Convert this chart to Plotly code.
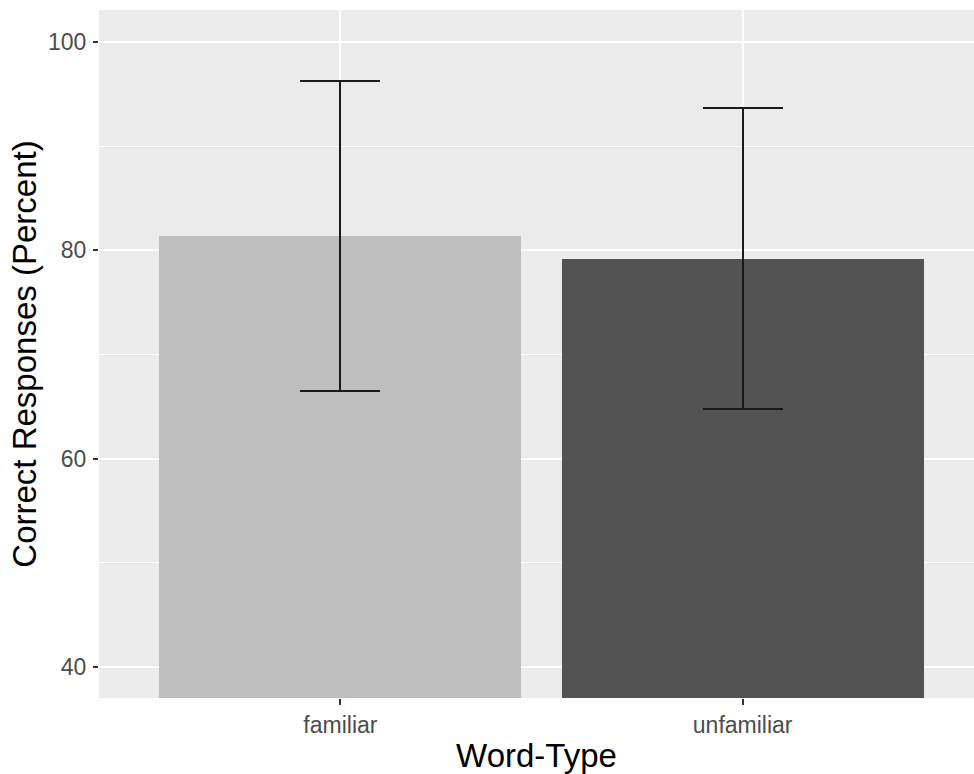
import plotly.graph_objects as go

# Mean percent correct by word type, with error half-widths
word_types = ["familiar", "unfamiliar"]
mean_correct = [81.4, 79.2]
error_halfwidth = [14.9, 14.45]
bar_colors = ["#BEBEBE", "#535353"]

y_ticks = [40, 60, 80, 100]

FONT = "Liberation Sans, Arial, sans-serif"

fig = go.Figure()
fig.add_trace(
    go.Bar(
        x=word_types,
        y=mean_correct,
        width=0.9,
        marker=dict(color=bar_colors, line=dict(width=0)),
        error_y=dict(
            type="data",
            array=error_halfwidth,
            visible=True,
            color="#1A1A1A",
            thickness=2,
            width=40,
        ),
        showlegend=False,
        hoverinfo="x+y",
    )
)

fig.update_layout(
    width=974,
    height=774,
    margin=dict(l=99, r=0, t=10, b=76),
    paper_bgcolor="white",
    plot_bgcolor="#EBEBEB",
    font=dict(family=FONT),
    bargap=0,
)

fig.update_xaxes(
    type="category",
    range=[-0.6, 1.575],
    showgrid=True,
    gridcolor="white",
    gridwidth=2,
    ticks="outside",
    ticklen=6,
    tickwidth=1.5,
    tickcolor="#333333",
    tickfont=dict(size=23, color="#4D4D4D", family=FONT),
    zeroline=False,
    showline=False,
    title=dict(text="Word-Type", font=dict(size=33, color="black", family=FONT), standoff=11),
    automargin=False,
)

fig.update_yaxes(
    range=[37.02, 103.07],
    tickvals=y_ticks,
    showgrid=True,
    gridcolor="white",
    gridwidth=2,
    minor=dict(dtick=10, tick0=0, showgrid=True, gridcolor="white", gridwidth=1),
    ticks="outside",
    ticklen=5,
    tickwidth=1.5,
    tickcolor="#333333",
    ticklabelstandoff=2,
    tickfont=dict(size=23, color="#4D4D4D", family=FONT),
    zeroline=False,
    showline=False,
    title=dict(text="Correct Responses (Percent)", font=dict(size=33, color="black", family=FONT), standoff=1),
    automargin=False,
)

fig.write_html("out.html")
